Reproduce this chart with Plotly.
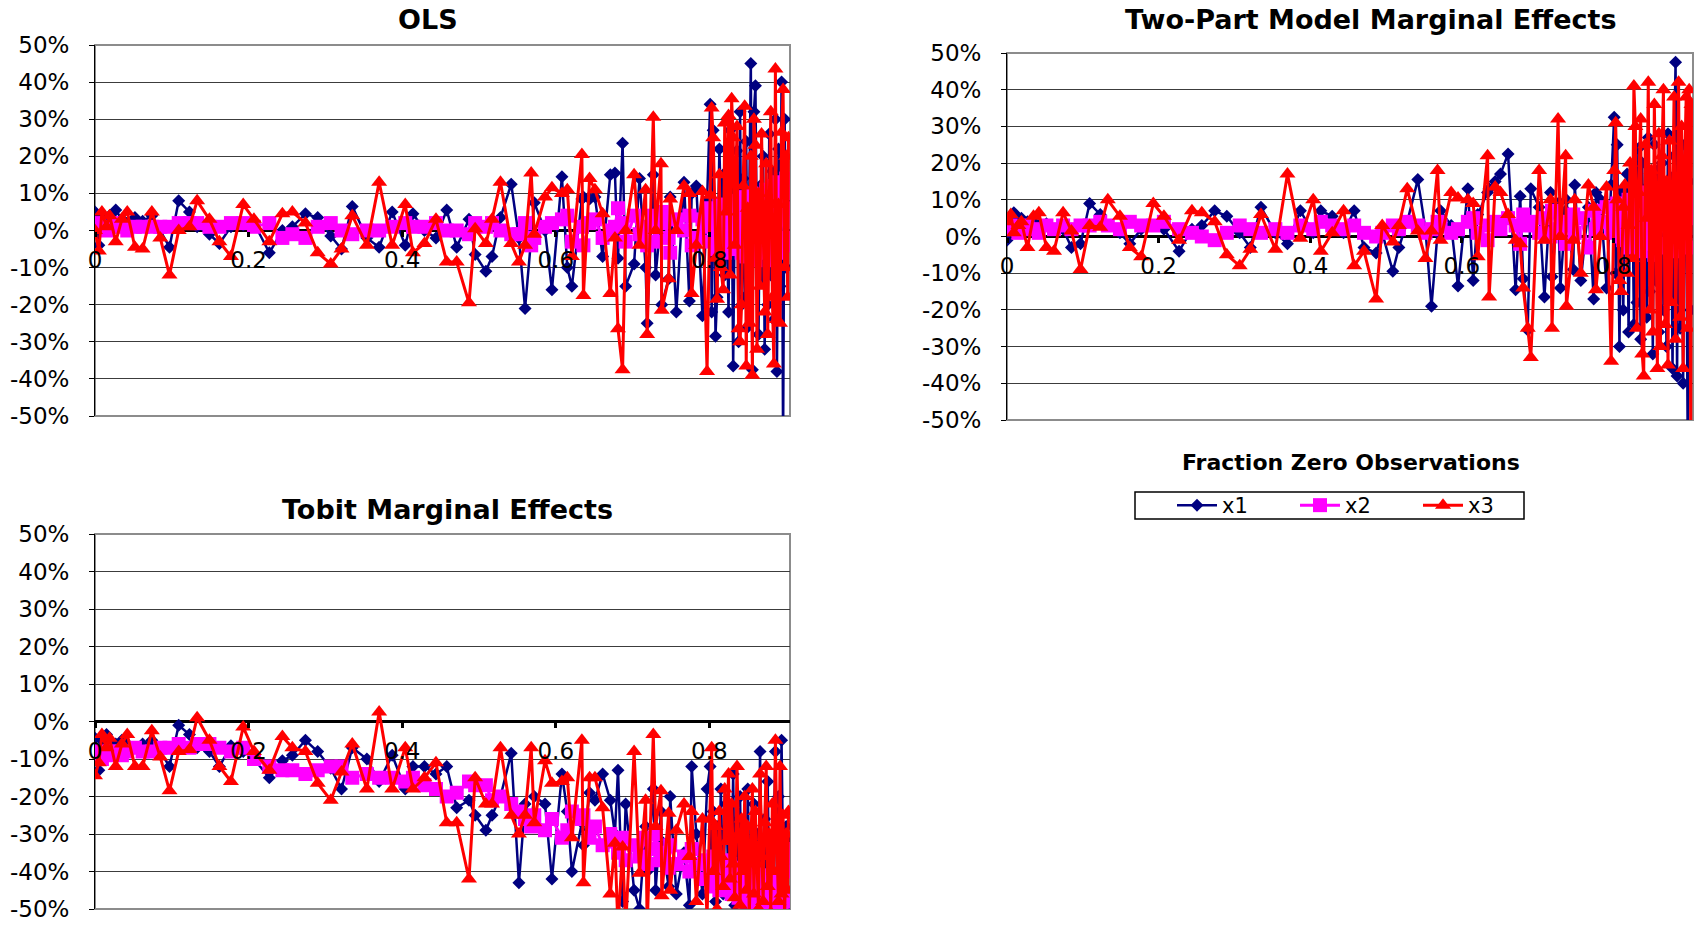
import plotly.graph_objects as go

# Fraction of zero observations in each simulated design (shared by all panels)
frac = [
    0.000, 0.005, 0.009, 0.015, 0.019, 0.027, 0.035, 0.042, 0.052, 0.062,
    0.074, 0.085, 0.097, 0.109, 0.123, 0.133, 0.149, 0.162, 0.177, 0.193,
    0.207, 0.227, 0.244, 0.257, 0.274, 0.290, 0.307, 0.321, 0.335, 0.354,
    0.370, 0.387, 0.404, 0.414, 0.429, 0.444, 0.458, 0.471, 0.487, 0.495,
    0.509, 0.517, 0.528, 0.542, 0.552, 0.560, 0.568, 0.572, 0.586, 0.595,
    0.608, 0.615, 0.621, 0.634, 0.636, 0.644, 0.651, 0.661, 0.671, 0.677,
    0.681, 0.687, 0.691, 0.702, 0.709, 0.717, 0.719, 0.727, 0.730, 0.737,
    0.738, 0.747, 0.749, 0.757, 0.767, 0.774, 0.777, 0.783, 0.791, 0.797,
    0.801, 0.803, 0.805, 0.808, 0.810, 0.813, 0.815, 0.818, 0.820, 0.822,
    0.825, 0.827, 0.829, 0.831, 0.833, 0.836, 0.838, 0.840, 0.842, 0.844,
    0.846, 0.848, 0.850, 0.852, 0.854, 0.856, 0.858, 0.860, 0.862, 0.864,
    0.866, 0.868, 0.870, 0.872, 0.874, 0.876, 0.878, 0.880, 0.882, 0.884,
    0.886, 0.888, 0.890, 0.892, 0.894, 0.896, 0.898, 0.900, 0.902, 0.903,
]

# Percentage bias of the estimated effects, OLS
ols_x1 = [
    5, -4, 4, 2, 4, 5.5, 3, 2, 3.5, 2.5,
    4, 0, -4.5, 8, 5, 1, -1, -3.5, 1, 1.5,
    2, -6, 0, 1, 4.5, 3.5, -1.5, -5, 6.5, -2,
    -4.5, 5, -4, 4.5, 0, -2, 5.5, -4.5, 3, -6.5,
    -11, -7, 3.5, 12.5, -2, -21, -1, 7.5, 0, -16,
    14.5, -10, -15, 8.5, 9, 8.5, 9, -7, 15, 15.5,
    -7.5, 23.5, -15, -9, 14, -10, -25, 15, -12, 3,
    -20, -13, 9, -22, 13, -19, 10, 12, -23, 8,
    34, -22, 27, -28.5, -18, 22, 8, 15, -12, 10,
    -22, 27, 12, -36.5, 6, 21.5, -30, 32, -20, 14,
    -18, 24, -26, 10, 45, -37.5, 32, 39, -8, -28,
    12, -14, 20, -32, 8, -20, 26, -12, 16, -24,
    30, -38, 22, -15, 40, -58, 30, -10, 8, 10,
]
ols_x2 = [
    1, 2, 1, 0, 1, 2, 1, 0, 1, 1,
    1, 1, 1, 2, 2, 2, 1, 1, 2, 2,
    1, 2, -2, -1, -2, 1, 2, 0, -1, 0,
    0, 1, 2, 1, 1, 2, 0, 0, -1, 2,
    1, 2, 0, -1, -1, 2, -4, -2, 1, 2,
    3, 4, -3, 1, -4, 2, 3, -2, 0, 1,
    6, 2, -3, 4, -1, 1, -4, 4, -3, 2,
    5, -2, -6, 3, 0, 4, -4, -2, 3, 1,
    6, -3, 4, -5, 2, 7, -2, 5, -6, 3,
    -4, 6, -3, 8, -5, 4, -2, 9, -6, 3,
    7, -7, 5, -4, 10, -3, 6, -8, 4, -2,
    9, -5, 3, -6, 11, -2, 6, -8, 12, -4,
    7, -3, 13, -6, 5, 10, -4, 14, -2, 6,
]
ols_x3 = [
    0, -5.5, 5, 1, 4, -3, 3, 5, -4.5, -5,
    5, -2, -12, 0, 1, 8, 3, -3, -7, 7,
    3, -3, 4.5, 5, 2, -6, -9, -5, 4, -4,
    13, -4, 7, -6, -3.5, 3, -8.5, -8.5, -19.5, 0.5,
    -3.5, 3, 13, -3.5, -8.5, -4, 15.5, -1, 9, 11.5,
    10, 11, -7, 20.5, -17.5, 14, 11, 4.5, -17, -2,
    -26.5, -37.5, 0, 15, -4, 11, -28, 30.5, 0, 18,
    -21.5, -13, 8.5, 0, 12, 10, -17, -4, 10.5, -38,
    9.5, 33, 25, -7.5, -18.5, 15, -10, -16, 29, 5,
    31, -12, 35.5, 25, -4, 28, -26.5, -30, -20, 12,
    33.5, -36.5, 6, -25, 20, -39, 30, 23, -32, 10,
    -15, 26, 3, -22, 18, -28, 8, 32, -18, -36,
    43.5, -24, 7, -25, 26.5, 38, -10, 20, -18, 25,
]

# Two-part model marginal effects
tpm_x1 = [
    -1, 4.5, 6.5, 5, 5, 4, 4, 3, 3.5, 2,
    2, -3, -2, 9, 6, 3, 1, -2, 2, 3,
    2, -4, 2, 3, 7, 5.5, 1, -3, 8, 1,
    -2, 7, 1, 7, 5.5, 1, 7, -3, -4.5, 1,
    -9.5, -3, 4, 15.5, 2, -19, 1, 7, 3, -13.5,
    13, -12, 6, 12, 13, 15, 17, 22.5, -14.5, 11,
    -11.5, -25.5, 13, 8, -16.5, 12, -11, 9, -14, 7,
    10, -9, 14, -12, 8, -17, 12, 10, -14, 14,
    32.5, -10, 25, -30, 12, -20, 6, 17, -26, 10,
    15, -24, 8, -18, 24, -28, 20, -8, 13, -22,
    27, -15, 10, -32, 25, -12, 18, -26, 5, 20,
    -20, 12, -30, 28, -10, 16, -36, 22, 47.5, -38,
    30, -25, 10, -40, 25, 8, -55, 15, -20, 5,
]
tpm_x2 = [
    2, 3, 2, 1, 2, 3, 2, 1, 3, 2,
    3, 2, 3, 3, 4, 3, 2, 4, 3, 3,
    4, 2, 1, 0, -1, 1, 3, 2, 1, 2,
    1, 3, 2, 4, 3, 2, 3, 1, 0, 1,
    3, 2, 4, 3, 1, 2, 4, 3, 1, 2,
    4, 5, 1, -1, 3, 4, 2, 5, 3, -2,
    6, 3, 4, 1, 5, 0, 7, 2, 4, -2,
    3, 6, 1, 5, -3, 7, 2, 4, 8, 1,
    5, 2, 9, 0, 6, -1, 8, 3, 10, -3,
    7, 2, 11, 0, 6, -4, 9, 3, 12, -2,
    5, 8, 1, 10, -5, 6, 3, 11, -2, 7,
    4, 12, -3, 6, 9, 0, 13, -4, 8, 2,
    10, -2, 7, 12, 1, 9, -3, 11, 5, 8,
]
tpm_x3 = [
    4, 6, 1, 3, 4, -3, 5.5, 6.5, -3, -4,
    6.5, 1.5, -9, 3, 2.5, 10, 5.5, -3, -5.5, 9,
    5.5, -1, 7, 6.5, 4, -5, -8, -3.5, 6, -3.5,
    17, -0.5, 10, -4, 1, 7, -8, -4, -17, 3,
    -1.5, 3, 13, 1.5, -6, 1.5, 18, -1, 12, 10.5,
    10, 9, -5.5, 22, -16.5, 13.5, 12, 6, -1, -2,
    -14, -25, -33, 18, -1, 10, -25, 32, 0, 22,
    -19, -1, 10, -10, 14, 8, -14.5, 0, 13.5, -34,
    18, 31, 10, -12, -15, 8, 14, -10, 3, 20,
    -6, 41, 30, -25, 12, 32, -32, -38, 25, 5,
    42, -20, 18, -26, 36, 10, -36, 28, -30, 22,
    40, -24, 15, -35, 26, -18, 8, 38, -28, 12,
    42, -22, 30, -36, 20, 38, -25, 40, -55, 36,
]

# Tobit marginal effects
tob_x1 = [
    -4.5, -13, -5, -3.5, -5, -6, -5, -6, -7, -6,
    -5, -8, -12, -1, -3.5, -7, -8, -12, -6.5, -8,
    -10, -15, -10.5, -9, -5, -8, -12.5, -18, -7, -10,
    -16, -9, -18, -12, -12, -14, -12, -23, -21, -25,
    -29, -25, -20, -8.5, -43, -22, -27, -20, -22, -42,
    -14, -24, -40, -27, -33, -19, -21, -14, -21, -30,
    -13, -48, -22, -45, -50, -28, -40, -18, -45, -24,
    -32, -44, -20, -46, -35, -49, -12, -30, -46, -18,
    -12, -40, -24, -48, -28, -36, -18, -46, -30, -22,
    -44, -26, -38, -14, -49, -32, -42, -20, -47, -34,
    -28, -50, -18, -40, -36, -48, -22, -44, -30, -46,
    -8, -38, -50, -26, -42, -16, -48, -34, -40, -30,
    -8, -44, -20, -48, -5, -38, -50, -28, -36, -32,
]
tob_x2 = [
    -9, -8, -10, -9, -8, -8, -9, -8, -7, -8,
    -8, -7, -7, -6, -7, -6, -6, -7, -8, -7,
    -10, -12, -13, -13, -14, -13, -12, -12, -15, -14,
    -15, -15, -16, -15, -17, -18, -20, -19, -16, -17,
    -17, -21, -20, -22, -24, -26, -28, -25, -29, -26,
    -31, -29, -24, -26, -25, -31, -28, -33, -30, -32,
    -35, -31, -37, -33, -36, -31, -38, -34, -30, -37,
    -35, -39, -33, -38, -36, -40, -34, -38, -42, -37,
    -39, -44, -36, -41, -38, -45, -40, -37, -43, -39,
    -42, -38, -46, -41, -44, -39, -47, -43, -40, -45,
    -41, -48, -44, -39, -46, -42, -49, -44, -40, -47,
    -43, -50, -45, -41, -48, -44, -51, -46, -42, -49,
    -45, -52, -47, -43, -50, -36, -46, -48, -34, -40,
]
tob_x3 = [
    -14.5, -11, -3.5, -7, -4.5, -12, -6, -3.5, -12, -12,
    -2.5, -9.5, -18.5, -8, -7.5, 1, -5, -12, -16, -1.5,
    -8, -13, -4, -7, -8, -16.5, -21, -13.5, -6, -18,
    2.5, -18, -7, -18, -15, -11, -27, -27, -42, -15,
    -22, -22, -7, -25, -30, -25, -7, -27, -10.5, -16.5,
    -16, -15, -31, -5, -43, -15, -15, -23, -46, -32.5,
    -55, -33.5, -55, -8, -40.5, -21, -55, -3.5, -28, -18.5,
    -46.5, -24.5, -45, -29, -22, -36, -24, -48, -26, -52,
    -26, -7, -40, -28, -50, -24, -36, -44, -18, -32,
    -14, -42, -22, -38, -47, -12, -30, -49, -26, -40,
    -20, -45, -28, -52, -33, -18, -46, -24, -38, -50,
    -14, -36, -48, -27, -12, -44, -30, -51, -22, -40,
    -5, -34, -48, -12, -46, -25, -52, -30, -45, -24,
]

series_names = ["x1", "x2", "x3"]
y_ticks = [50, 40, 30, 20, 10, 0, -10, -20, -30, -40, -50]
y_tick_text = ["50%", "40%", "30%", "20%", "10%", "0%",
               "-10%", "-20%", "-30%", "-40%", "-50%"]
x_ticks = [0, 0.2, 0.4, 0.6, 0.8]
x_tick_text = ["0", "0.2", "0.4", "0.6", "0.8"]

for arr in [ols_x1, ols_x2, ols_x3, tpm_x1, tpm_x2, tpm_x3, tob_x1, tob_x2, tob_x3]:
    assert len(arr) == len(frac)

W, H = 1695, 925
FONT = "DejaVu Sans"

styles = [
    dict(color="#000080", symbol="diamond", size=10, width=2.5),
    dict(color="#FF00FF", symbol="square", size=14, width=3),
    dict(color="#FF0000", symbol="triangle-up", size=14, width=3),
]

# Panel boxes in pixels: left, right, top, bottom
panels = [
    dict(name="OLS", data=[ols_x1, ols_x2, ols_x3], box=(95, 790, 45, 416),
         title_xy=(428, 19)),
    dict(name="Two-Part Model Marginal Effects", data=[tpm_x1, tpm_x2, tpm_x3],
         box=(1007, 1693, 53, 420), title_xy=(1370, 19)),
    dict(name="Tobit Marginal Effects", data=[tob_x1, tob_x2, tob_x3],
         box=(95, 790, 534, 909), title_xy=(447, 509)),
]

fig = go.Figure()
annotations = []
shapes = []

for i, p in enumerate(panels):
    k = "" if i == 0 else str(i + 1)
    left, right, top, bottom = p["box"]
    xdom = [left / W, right / W]
    ydom = [1 - bottom / H, 1 - top / H]
    zero_pos = 1 - (top + bottom) / 2 / H

    for j, (vals, st) in enumerate(zip(p["data"], styles)):
        fig.add_trace(go.Scatter(
            x=frac, y=vals, mode="lines+markers", name=series_names[j],
            legendgroup=series_names[j], showlegend=(i == 0),
            line=dict(color=st["color"], width=st["width"]),
            marker=dict(symbol=st["symbol"], size=st["size"], color=st["color"],
                        line=dict(width=0)),
            xaxis="x" + k, yaxis="y" + k,
        ))

    fig.layout["xaxis" + k] = dict(
        domain=xdom, anchor="free", position=zero_pos, range=[0, 0.905],
        tickvals=x_ticks, ticktext=x_tick_text, ticks="outside", ticklen=5,
        tickwidth=3, tickcolor="black", showgrid=False, showline=False,
        zeroline=False, automargin=False,
        tickfont=dict(family=FONT, size=23, color="black"),
        ticklabelstandoff=4,
    )
    fig.layout["yaxis" + k] = dict(
        domain=ydom, anchor="x" + k, range=[-50, 50],
        tickvals=y_ticks, ticktext=y_tick_text, ticks="outside", ticklen=5,
        tickcolor="black", showline=True, linecolor="black", linewidth=1,
        showgrid=True, gridcolor="#3c3c3c", gridwidth=1,
        zeroline=True, zerolinecolor="black", zerolinewidth=3,
        automargin=False, ticklabeloverflow="allow",
        tickfont=dict(family=FONT, size=23, color="black"),
        ticklabelstandoff=15,
    )
    shapes.append(dict(type="rect", xref="x" + k + " domain", yref="y" + k + " domain",
                       x0=0, x1=1, y0=0, y1=1, layer="below",
                       line=dict(color="#8c8c8c", width=2)))
    tx, ty = p["title_xy"]
    annotations.append(dict(text=p["name"], x=tx / W, y=1 - ty / H, xref="paper",
                            yref="paper", showarrow=False, xanchor="center",
                            yanchor="middle",
                            font=dict(family=FONT, size=27, color="black",
                                      weight="bold")))

annotations.append(dict(text="Fraction Zero Observations", x=1351 / W, y=1 - 462 / H,
                        xref="paper", yref="paper", showarrow=False,
                        xanchor="center", yanchor="middle",
                        font=dict(family=FONT, size=22, color="black", weight="bold")))

# Frame around the legend entries
shapes.append(dict(type="rect", xref="paper", yref="paper",
                   x0=1135 / W, x1=1524 / W, y0=1 - 519 / H, y1=1 - 492 / H,
                   layer="below", line=dict(color="black", width=1.5)))

fig.update_layout(
    width=W, height=H, margin=dict(l=0, r=0, t=0, b=0, pad=0, autoexpand=False),
    paper_bgcolor="white", plot_bgcolor="white",
    annotations=annotations, shapes=shapes,
    legend=dict(orientation="h", x=1172 / W, y=1 - 505.5 / H, xanchor="left",
                yanchor="middle", borderwidth=0, bgcolor="rgba(0,0,0,0)",
                font=dict(family=FONT, size=21, color="black"),
                entrywidth=68, itemwidth=40, tracegroupgap=0),
)

fig.write_html("out.html")
